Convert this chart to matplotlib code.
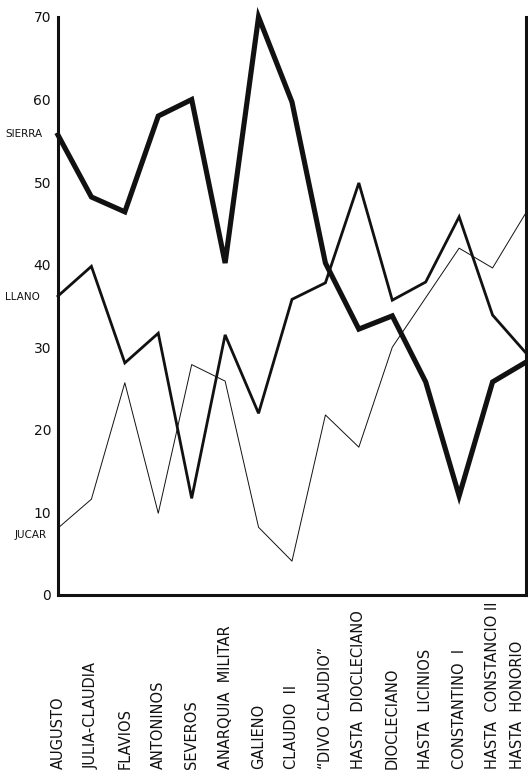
import numpy as np
import matplotlib
matplotlib.use("Agg")
import matplotlib.pyplot as plt
import matplotlib.transforms as mtransforms

periodos = ["AUGUSTO", "JULIA-CLAUDIA", "FLAVIOS", "ANTONINOS", "SEVEROS",
            "ANARQUIA  MILITAR", "GALIENO", "CLAUDIO  II", "“DIVO CLAUDIO”",
            "HASTA  DIOCLECIANO", "DIOCLECIANO", "HASTA  LICINIOS",
            "CONSTANTINO  I", "HASTA  CONSTANCIO II", "HASTA  HONORIO"]

sierra = [55.7, 48.2, 46.4, 58.0, 60.0, 40.2, 70.0, 59.7, 40.2, 32.2,
          33.8, 25.8, 12.0, 25.8, 28.2]
llano = [36.2, 39.8, 28.1, 31.7, 11.7, 31.5, 22.0, 35.8, 37.8, 49.9,
         35.7, 37.9, 45.8, 33.9, 29.3]
jucar = [8.1, 11.6, 25.7, 9.9, 27.9, 25.9, 8.2, 4.1, 21.8, 17.9,
         30.0, 36.0, 42.0, 39.6, 46.3]

y_ticks = [0, 10, 20, 30, 40, 50, 60, 70]

x = np.arange(len(periodos))
ink = "#111111"

fig = plt.figure(figsize=(5.28, 7.71), dpi=100)
ax = fig.add_axes([0.1098, 0.2283, 0.8864, 0.7497])

ax.plot(x, sierra, color=ink, lw=3.7, solid_joinstyle="miter", clip_on=False)
ax.plot(x, llano, color=ink, lw=2.0, solid_joinstyle="miter", clip_on=False)
ax.plot(x, jucar, color=ink, lw=0.7, clip_on=False)

ax.set_xlim(0, len(periodos) - 1)
ax.set_ylim(0, 70)

for s in ["left", "bottom", "right"]:
    ax.spines[s].set_linewidth(2.2)
    ax.spines[s].set_color(ink)
ax.spines["top"].set_visible(False)

ax.set_yticks(y_ticks)
ax.set_yticklabels([str(v) for v in y_ticks], fontsize=10, color=ink)
ax.tick_params(axis="y", length=0, pad=5)
ax.set_xticks([])

# nombres de las series junto al eje
for nombre, val, dx in [("SIERRA", 55.8, -11), ("LLANO", 36.1, -13), ("JUCAR", 7.3, -8)]:
    ax.annotate(nombre, xy=(0, val), xytext=(dx, 0), textcoords="offset points",
                ha="right", va="center", fontsize=7.5, color=ink, annotation_clip=False)

# etiquetas de periodos, ancladas abajo
trans = mtransforms.blended_transform_factory(ax.transData, fig.transFigure)
for xi, lab in zip(x, periodos):
    ha = "right" if xi == x[-1] else "center"
    dx = -0.03 if xi == x[-1] else 0
    ax.text(xi + dx, 0.003, lab, transform=trans, rotation=90, ha=ha, va="bottom",
            fontsize=10.5, color=ink, clip_on=False)

fig.savefig("out.png", dpi=100, facecolor="white")
